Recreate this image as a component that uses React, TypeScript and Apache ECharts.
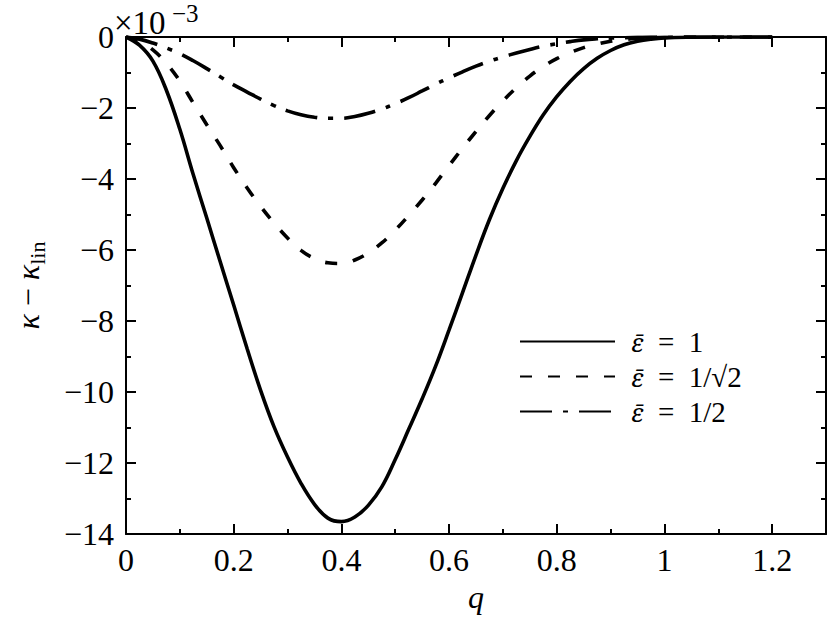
import React, { useEffect, useRef } from "react";
import * as echarts from "echarts";

// q grid
const qValues = [
  0, 0.025, 0.05, 0.075, 0.1, 0.125, 0.15, 0.175, 0.2, 0.225, 0.25, 0.275, 0.3,
  0.325, 0.35, 0.375, 0.4, 0.425, 0.45, 0.475, 0.5, 0.525, 0.55, 0.575, 0.6,
  0.625, 0.65, 0.675, 0.7, 0.725, 0.75, 0.775, 0.8, 0.825, 0.85, 0.875, 0.9,
  0.925, 0.95, 0.975, 1.0, 1.05, 1.1, 1.15, 1.2,
];

// kappa - kappa_lin (x 1e-3)
const kappaEps1 = [
  0, -0.23, -0.68, -1.5, -2.6, -3.88, -5.1, -6.33, -7.55, -8.78, -9.95, -10.98,
  -11.83, -12.57, -13.16, -13.55, -13.65, -13.52, -13.19, -12.67, -11.9, -11.05,
  -10.19, -9.27, -8.25, -7.2, -6.14, -5.14, -4.26, -3.48, -2.8, -2.19, -1.68,
  -1.25, -0.89, -0.6, -0.38, -0.22, -0.12, -0.06, -0.025, -0.005, 0, 0, 0,
];
const kappaEpsInvSqrt2 = [
  0, -0.12, -0.36, -0.74, -1.24, -1.86, -2.47, -3.06, -3.68, -4.25, -4.77, -5.24,
  -5.66, -6.01, -6.24, -6.36, -6.38, -6.28, -6.08, -5.8, -5.44, -5.03, -4.59,
  -4.12, -3.62, -3.13, -2.66, -2.21, -1.8, -1.43, -1.1, -0.83, -0.61, -0.44,
  -0.3, -0.2, -0.12, -0.07, -0.04, -0.02, -0.01, 0, 0, 0, 0,
];
const kappaEpsHalf = [
  0, -0.06, -0.17, -0.31, -0.47, -0.67, -0.89, -1.12, -1.35, -1.55, -1.75, -1.93,
  -2.08, -2.19, -2.26, -2.29, -2.29, -2.24, -2.15, -2.03, -1.88, -1.71, -1.52,
  -1.33, -1.15, -0.98, -0.82, -0.68, -0.56, -0.45, -0.35, -0.26, -0.19, -0.13,
  -0.08, -0.05, -0.03, -0.02, -0.01, 0, 0, 0, 0, 0, 0,
];

const seriesNames = ["eps1", "epsInvSqrt2", "epsHalf"];
const legendLabels = ["1", "1/\u221A2", "1/2"];

const X_MIN = 0;
const X_MAX = 1.3;
const Y_MIN = -14;
const Y_MAX = 0;

export default function App() {
  const ref = useRef<HTMLDivElement>(null);

  useEffect(() => {
    const chart = echarts.init(ref.current!, null, { renderer: "svg" });
    const font = "Liberation Serif";
    const black = "#000";
    const pair = (arr: number[]) => qValues.map((q, i) => [q, arr[i]]);

    const lineW = { color: black, width: 2 };

    const xBase = (extra: any) => ({
      type: "value",
      min: X_MIN,
      max: X_MAX,
      splitLine: { show: false },
      axisLine: { show: false, onZero: false, lineStyle: lineW },
      axisTick: { show: true, inside: true, length: 10, lineStyle: lineW },
      axisLabel: { show: false },
      ...extra,
    });
    const yBase = (extra: any) => ({
      type: "value",
      min: Y_MIN,
      max: Y_MAX,
      interval: 2,
      splitLine: { show: false },
      axisLine: { show: true, onZero: false, lineStyle: lineW },
      axisTick: { show: true, inside: true, length: 10, lineStyle: lineW },
      minorTick: { show: true, splitNumber: 2, length: 5, lineStyle: lineW },
      axisLabel: { show: false },
      ...extra,
    });

    const lineSeries = (name: string, values: number[], type: any) => ({
      type: "line",
      name,
      data: pair(values),
      symbol: "none",
      showSymbol: false,
      smooth: 0.4,
      xAxisIndex: 0,
      yAxisIndex: 0,
      itemStyle: { color: black },
      lineStyle: { color: black, width: 3.6, type },
    });

    const option: any = {
      animation: false,
      backgroundColor: "#fff",
      textStyle: { fontFamily: font, color: black },
      grid: { left: 112, top: 37, right: 4, bottom: 79, containLabel: false },
      xAxis: [
        xBase({
          position: "bottom",
          interval: 0.2,
          axisLine: { show: true, onZero: false, lineStyle: lineW },
          axisLabel: {
            show: true,
            margin: 10,
            fontSize: 32,
            fontFamily: font,
            color: black,
            formatter: (v: number) => (v > 1.25 ? "" : String(+v.toFixed(1))),
          },
          name: "q",
          nameLocation: "middle",
          nameGap: 32,
          nameTextStyle: {
            fontStyle: "italic",
            fontSize: 32,
            fontFamily: font,
            color: black,
          },
        }),
        xBase({
          position: "bottom",
          interval: 0.1,
          axisTick: { show: true, inside: true, length: 5, lineStyle: lineW },
        }),
        xBase({
          position: "top",
          interval: 0.2,
          axisLine: { show: true, onZero: false, lineStyle: lineW },
        }),
        xBase({
          position: "top",
          interval: 0.1,
          axisTick: { show: true, inside: true, length: 5, lineStyle: lineW },
        }),
      ],
      yAxis: [
        yBase({
          position: "left",
          axisLabel: {
            show: true,
            margin: 12,
            fontSize: 32,
            fontFamily: font,
            color: black,
            formatter: (v: number) =>
              v === 0 ? "0" : (v < 0 ? "\u2212" : "") + Math.abs(v),
          },
          name: "{k|\u03BA}{m| \u2212 }{k|\u03BA}{s|lin}",
          nameLocation: "middle",
          nameGap: 78,
          nameTextStyle: {
            fontSize: 32,
            fontFamily: font,
            color: black,
            rich: {
              k: {
                fontStyle: "italic",
                fontSize: 32,
                fontFamily: font,
                color: black,
                lineHeight: 40,
              },
              m: { fontSize: 32, fontFamily: font, color: black, lineHeight: 40 },
              s: {
                fontSize: 22,
                fontFamily: font,
                color: black,
                lineHeight: 22,
                padding: [18, 0, 0, 0],
              },
            },
          },
        }),
        yBase({ position: "right" }),
      ],
      legend: {
        show: true,
        orient: "vertical",
        left: 519,
        top: 324,
        padding: 0,
        itemWidth: 95,
        itemHeight: 14,
        itemGap: 0,
        selectedMode: false,
        itemStyle: { opacity: 0 },
        formatter: (name: string) =>
          "{e|\u03B5\u0304}{t|\u2002=\u2002" +
          legendLabels[seriesNames.indexOf(name)] +
          "}",
        textStyle: {
          fontSize: 29,
          lineHeight: 35,
          fontFamily: font,
          color: black,
          padding: [0, 0, 0, 11],
          rich: {
            e: {
              fontSize: 25,
              fontFamily: "Noto Serif",
              fontStyle: "italic",
              color: black,
              lineHeight: 35,
            },
            t: { fontSize: 29, fontFamily: font, color: black, lineHeight: 35 },
          },
        },
        data: seriesNames,
      },
      series: [
        lineSeries(seriesNames[0], kappaEps1, "solid"),
        lineSeries(seriesNames[1], kappaEpsInvSqrt2, [12, 16]),
        lineSeries(seriesNames[2], kappaEpsHalf, [32, 11, 5, 11]),
      ],
      graphic: [
        {
          type: "text",
          left: 114,
          top: 6,
          style: {
            text: "\u00D710",
            fontSize: 33,
            fontFamily: font,
            fill: black,
          },
        },
        {
          type: "text",
          left: 172,
          top: 1,
          style: {
            text: "\u22123",
            fontSize: 25,
            fontFamily: font,
            fill: black,
          },
        },
      ],
    };

    chart.setOption(option);
    return () => chart.dispose();
  }, []);

  return (
    <div
      ref={ref}
      style={{ position: "fixed", left: 0, top: 0, width: 830, height: 618 }}
    />
  );
}
